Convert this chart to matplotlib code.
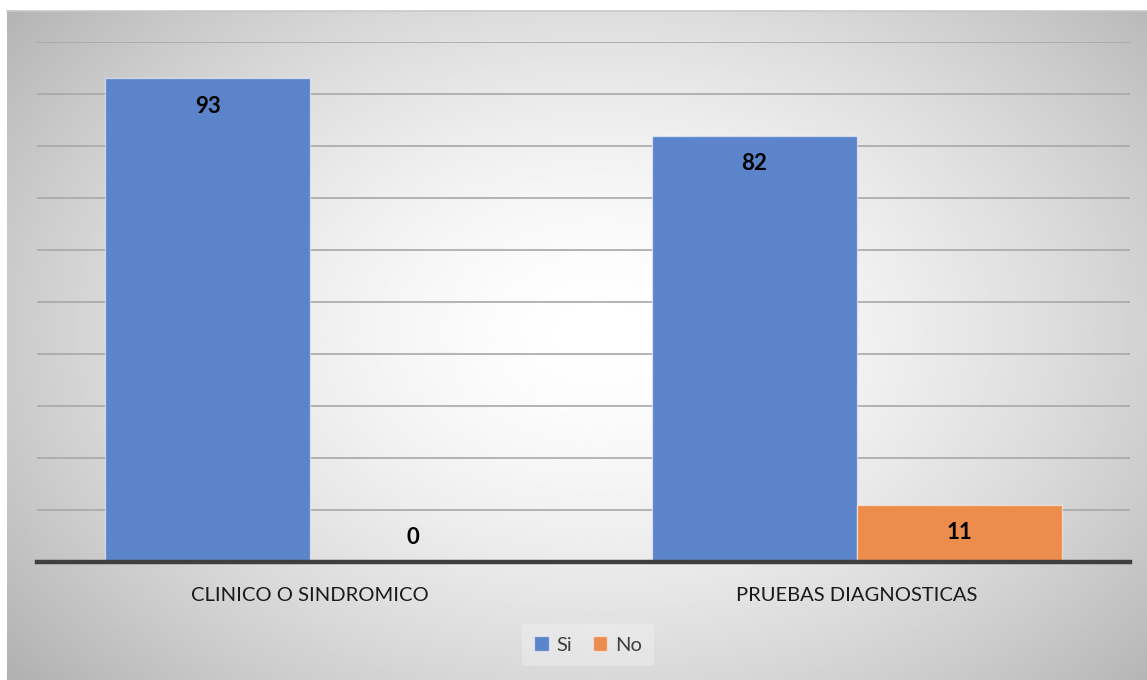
import numpy as np
import matplotlib
matplotlib.use("Agg")
import matplotlib.pyplot as plt
from matplotlib.patches import Patch

plt.rcParams['font.family'] = ['Lato', 'DejaVu Sans']

categories = ['CLINICO O SINDROMICO', 'PRUEBAS DIAGNOSTICAS']
si_values = [93, 82]
no_values = [0, 11]
series_names = ['Si', 'No']

blue = '#5b84ca'
orange = '#ec8c4d'

W, H = 1147, 680
fig = plt.figure(figsize=(W / 100, H / 100), dpi=100)
fig.patch.set_facecolor('white')

# radial gradient background (white centre -> gray edges)
bg = fig.add_axes([7 / W, 0, 1 - 7 / W, (H - 11) / H])
gx, gy = np.meshgrid(np.linspace(0, 1, 400), np.linspace(0, 1, 240))
r = np.sqrt(((gx - 0.52) / 0.62) ** 2 + ((gy - 0.48) / 0.75) ** 2)
shade = 1 - 0.27 * np.clip(r, 0, 1.2) ** 1.6
bg.imshow(shade, cmap='gray', vmin=0, vmax=1, aspect='auto',
          extent=[0, 1, 0, 1], interpolation='bilinear')
bg.set_axis_off()
bg.plot([0, 1], [1, 1], color='#c8c8c8', lw=1.2, transform=bg.transAxes, clip_on=False)

ax = fig.add_axes([37 / W, (H - 562) / H, (1130 - 37) / W, (562 - 42) / H])
ax.set_facecolor('none')

x = np.arange(len(categories))
width = 0.375
b1 = ax.bar(x - width / 2, si_values, width, color=blue,
            edgecolor=(1, 1, 1, 0.5), linewidth=1, zorder=3, label=series_names[0])
b2 = ax.bar(x + width / 2, no_values, width, color=orange,
            edgecolor=(1, 1, 1, 0.5), linewidth=1, zorder=3, label=series_names[1])

for bars in (b1, b2):
    for rect in bars:
        h = rect.get_height()
        ax.annotate(str(int(h)), (rect.get_x() + rect.get_width() / 2, h),
                    xytext=(0, -20 if h > 0 else 18), textcoords='offset points',
                    ha='center', va='center', fontsize=16, fontweight='bold',
                    color='black', zorder=5)

ax.set_xlim(-0.5, 1.5)
ax.set_ylim(0, 100)
ax.set_yticks(np.arange(0, 101, 10))
ax.yaxis.grid(True, color='#a8a8a8', linewidth=1.2, zorder=0)
ax.tick_params(axis='y', length=0, labelleft=False)
ax.set_xticks(x)
ax.set_xticklabels(categories, fontsize=14.5, color='#1a1a1a')
ax.tick_params(axis='x', length=0, pad=18)
for s in ['top', 'right', 'left']:
    ax.spines[s].set_visible(False)
ax.spines['bottom'].set_color('#3f3f3f')
ax.spines['bottom'].set_linewidth(3.2)
ax.spines['bottom'].set_zorder(4)

handles = [Patch(facecolor=blue, edgecolor=(1, 1, 1, 0.5)),
           Patch(facecolor=orange, edgecolor=(1, 1, 1, 0.5))]
leg = fig.legend(handles, series_names, loc='center', bbox_to_anchor=(588 / W, (H - 645) / H),
                 ncol=2, frameon=True, fontsize=14.5, handlelength=0.7, handleheight=0.7,
                 handletextpad=0.4, columnspacing=1.0, borderpad=0.6)
leg.get_frame().set_facecolor('#fafafa')
leg.get_frame().set_edgecolor('none')
leg.get_frame().set_alpha(0.3)
for t in leg.get_texts():
    t.set_color('#404040')

fig.savefig('out.png', dpi=100)
